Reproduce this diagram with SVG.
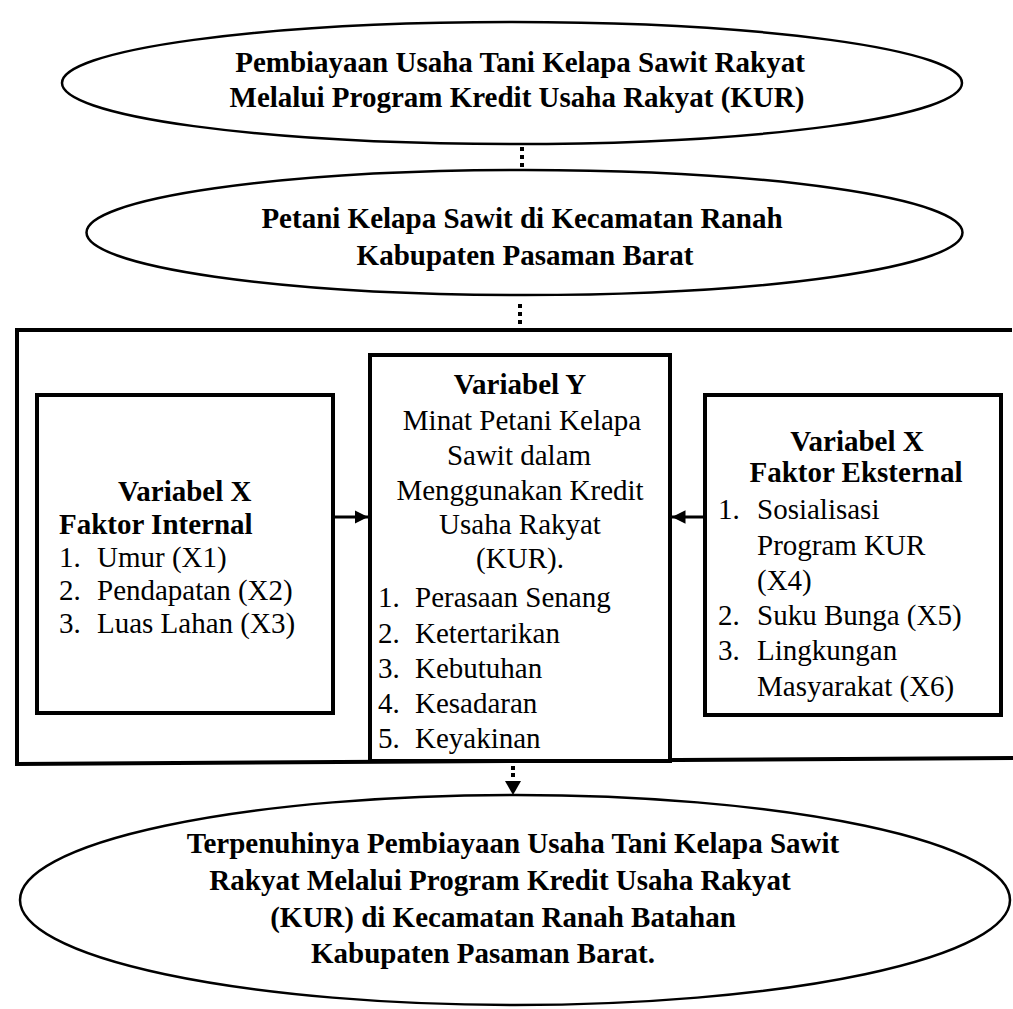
<svg xmlns="http://www.w3.org/2000/svg" width="1013" height="1009" viewBox="0 0 1013 1009" font-family="Liberation Serif, serif">
<defs>
<style>
.t{font-family:'Liberation Serif',serif;font-size:29px;fill:#000}
.b{font-weight:bold}
.m{text-anchor:middle}
.ell{fill:#fff;stroke:#000;stroke-width:2.5}
.box{fill:#fff;stroke:#000;stroke-width:4}
.ln{fill:none;stroke:#000;stroke-width:4}
.dot{fill:#000}
</style>
<marker id="ah" viewBox="0 0 10 10" refX="10" refY="5" markerWidth="4.5" markerHeight="4.5" orient="auto" markerUnits="strokeWidth">
<path d="M0,0 L10,5 L0,10 z" fill="#000"/>
</marker>
</defs>
<rect width="1013" height="1009" fill="#fff"/>

<g id="frame">
<path class="ln" d="M1012,330 H17 V764 L1013,758"/>
</g>

<g id="node-top">
<ellipse class="ell" cx="512" cy="83" rx="450" ry="61"/>
<text class="t b m" x="520" y="72">Pembiayaan Usaha Tani Kelapa Sawit Rakyat</text>
<text class="t b m" x="517" y="107">Melalui Program Kredit Usaha Rakyat (KUR)</text>
</g>

<g id="node-petani">
<ellipse class="ell" cx="524.5" cy="232.5" rx="438" ry="62.5"/>
<text class="t b m" x="522" y="228">Petani Kelapa Sawit di Kecamatan Ranah</text>
<text class="t b m" x="525" y="265">Kabupaten Pasaman Barat</text>
</g>

<g id="node-internal">
<rect class="box" x="37" y="395" width="296" height="318"/>
<text class="t b" x="118" y="501">Variabel X</text>
<text class="t b" x="59" y="534">Faktor Internal</text>
<text class="t" x="59" y="567">1.</text><text class="t" x="97" y="567">Umur (X1)</text>
<text class="t" x="59" y="600">2.</text><text class="t" x="97" y="600">Pendapatan (X2)</text>
<text class="t" x="59" y="633">3.</text><text class="t" x="97" y="633">Luas Lahan (X3)</text>
</g>

<g id="node-y">
<rect class="box" x="370" y="355" width="300" height="406"/>
<text class="t b m" x="520" y="394">Variabel Y</text>
<text class="t m" x="522" y="430">Minat Petani Kelapa</text>
<text class="t m" x="519" y="465">Sawit dalam</text>
<text class="t m" x="520" y="500">Menggunakan Kredit</text>
<text class="t m" x="520" y="534">Usaha Rakyat</text>
<text class="t m" x="520" y="568">(KUR).</text>
<text class="t" x="378" y="607">1.</text><text class="t" x="415" y="607">Perasaan Senang</text>
<text class="t" x="378" y="643">2.</text><text class="t" x="415" y="643">Ketertarikan</text>
<text class="t" x="378" y="678">3.</text><text class="t" x="415" y="678">Kebutuhan</text>
<text class="t" x="378" y="713">4.</text><text class="t" x="415" y="713">Kesadaran</text>
<text class="t" x="378" y="748">5.</text><text class="t" x="415" y="748">Keyakinan</text>
</g>

<g id="node-external">
<rect class="box" x="705" y="395" width="296" height="320"/>
<text class="t b m" x="857" y="451">Variabel X</text>
<text class="t b m" x="856" y="482">Faktor Eksternal</text>
<text class="t" x="718" y="519">1.</text><text class="t" x="757" y="519">Sosialisasi</text>
<text class="t" x="757" y="555">Program KUR</text>
<text class="t" x="757" y="590">(X4)</text>
<text class="t" x="718" y="625">2.</text><text class="t" x="757" y="625">Suku Bunga (X5)</text>
<text class="t" x="718" y="660">3.</text><text class="t" x="757" y="660">Lingkungan</text>
<text class="t" x="757" y="696">Masyarakat (X6)</text>
</g>

<g id="node-result">
<ellipse class="ell" cx="515" cy="900" rx="495" ry="105"/>
<text class="t b m" x="513" y="853">Terpenuhinya Pembiayaan Usaha Tani Kelapa Sawit</text>
<text class="t b m" x="500" y="890">Rakyat Melalui Program Kredit Usaha Rakyat</text>
<text class="t b m" x="503" y="927">(KUR) di Kecamatan Ranah Batahan</text>
<text class="t b m" x="483" y="963">Kabupaten Pasaman Barat.</text>
</g>

<g id="connectors">
<rect class="dot" x="520" y="147" width="4" height="4"/>
<rect class="dot" x="520" y="155" width="4" height="4"/>
<rect class="dot" x="520" y="163" width="4" height="4"/>
<rect class="dot" x="518" y="304" width="4" height="4"/>
<rect class="dot" x="518" y="312" width="4" height="4"/>
<rect class="dot" x="518" y="320" width="4" height="4"/>
<rect class="dot" x="511" y="766" width="4" height="4"/>
<rect class="dot" x="511" y="773" width="4" height="4"/>
<path d="M505,781 L521,781 L513,795 z" fill="#000"/>
<line x1="335" y1="517" x2="368" y2="517" stroke="#000" stroke-width="3" marker-end="url(#ah)"/>
<line x1="705" y1="517" x2="672" y2="517" stroke="#000" stroke-width="3" marker-end="url(#ah)"/>
</g>
</svg>
